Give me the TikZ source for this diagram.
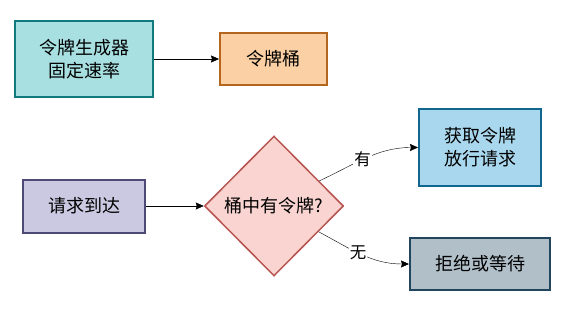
\documentclass[tikz,border=0pt]{standalone}
\usepackage{fontspec}
\setmainfont{Noto Sans CJK SC}
\usepackage{tikz}
\usetikzlibrary{positioning,arrows.meta,shapes.geometric}
\usepackage{xcolor}

\definecolor{genfill}{HTML}{A8DFE1}
\definecolor{gendraw}{HTML}{127A7E}
\definecolor{bktfill}{HTML}{FAD0A4}
\definecolor{bktdraw}{HTML}{B4661F}
\definecolor{reqfill}{HTML}{CBC9E1}
\definecolor{reqdraw}{HTML}{4E4A78}
\definecolor{diafill}{HTML}{F9D4D0}
\definecolor{diadraw}{HTML}{B85450}
\definecolor{okfill}{HTML}{A9D8EE}
\definecolor{okdraw}{HTML}{10668F}
\definecolor{rejfill}{HTML}{B1BFC9}
\definecolor{rejdraw}{HTML}{23445D}

\begin{document}
\begin{tikzpicture}[x=1pt,y=1pt,>={Stealth[length=8pt,width=7pt,inset=1pt]},
  box/.style={draw,line width=2pt,align=center,inner sep=0pt,
    font=\fontsize{18}{23}\selectfont},
  lbl/.style={fill=white,inner sep=1pt,font=\fontsize{16.5}{19}\selectfont}]
\useasboundingbox (0,0) rectangle (576,309);
\node (gen) [box,fill=genfill,draw=gendraw,minimum width=138,minimum height=76] at (84,250) {令牌生成器\\固定速率};
\node (bkt) [box,fill=bktfill,draw=bktdraw,minimum width=107,minimum height=52] at (273.5,250) {令牌桶};
\node (req) [box,fill=reqfill,draw=reqdraw,minimum width=122,minimum height=53] at (84,103) {请求到达};
\node (dia) [box,diamond,line width=1.5pt,fill=diafill,draw=diadraw,minimum width=139,minimum height=140] at (274,103) {桶中有令牌?};
\node (ok) [box,fill=okfill,draw=okdraw,minimum width=122,minimum height=77] at (480,161.5) {获取令牌\\放行请求};
\node (rej) [box,fill=rejfill,draw=rejdraw,minimum width=140,minimum height=52] at (480,45) {拒绝或等待};
\draw[->] (gen) -- (bkt);
\draw[->] (req) -- (dia);
\draw[->] (dia.29) to[out=25,in=180] node[lbl,pos=0.45]{有} (ok.west);
\draw[->] (dia.-30) to[out=-28,in=180] node[lbl,pos=0.45]{无} (rej.west);
\end{tikzpicture}
\end{document}
